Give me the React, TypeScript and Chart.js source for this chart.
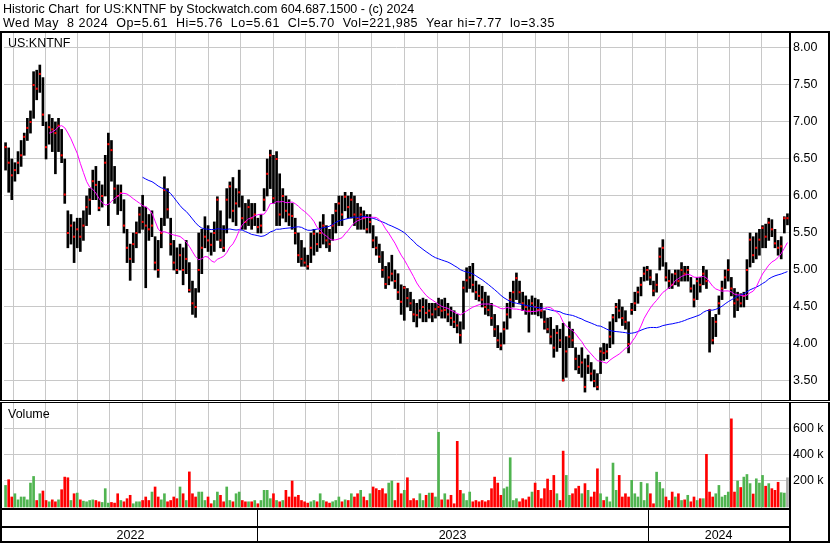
import React, { useEffect, useRef } from 'react';
import { Chart, registerables } from 'chart.js';

Chart.register(...registerables);

// ---- Text ----
const headerLine1 = 'Historic Chart  for US:KNTNF by Stockwatch.com 604.687.1500 - (c) 2024';
const headerLine2 = 'Wed May  8 2024  Op=5.61  Hi=5.76  Lo=5.61  Cl=5.70  Vol=221,985  Year hi=7.77  lo=3.35';
const symbolLabel = 'US:KNTNF';
const volumeLabel = 'Volume';

// ---- Price data (one bar = two trading days, May 2022 .. May 8 2024) ----
const closes = [
  6.66, 6.45, 6.28, 6.35, 6.45, 6.55, 6.8, 6.92, 7.0, 7.5,
  7.45, 7.65, 7.1, 6.66, 6.93, 6.9, 6.85, 6.95, 6.55, 6.02,
  5.5, 5.6, 5.45, 5.55, 5.45, 5.6, 5.85, 5.95, 6.2, 6.15,
  5.84, 6.0, 6.45, 6.7, 6.62, 6.1, 6.0, 6.04, 5.6, 5.3,
  5.15, 5.35, 5.5, 5.75, 5.65, 5.6, 5.55, 5.6, 5.1, 5.0,
  5.5, 6.08, 5.82, 5.35, 5.1, 5.0, 5.2, 5.0, 5.15, 4.73,
  4.55, 4.5, 5.0, 5.3, 5.45, 5.4, 5.34, 5.5, 5.95, 5.4,
  5.3, 5.95, 6.13, 5.8, 5.9, 6.05, 5.7, 5.65, 5.85, 5.7,
  5.75, 5.58, 5.6, 5.95, 6.3, 6.55, 5.97, 6.5, 5.75, 6.0,
  5.8, 5.75, 5.73, 5.5, 5.2, 5.15, 5.1, 5.05, 5.3, 5.49,
  5.35, 5.5, 5.6, 5.4, 5.35, 5.6, 5.8, 5.9, 5.75, 5.99,
  5.85, 5.95, 5.75, 5.7, 5.75, 5.7, 5.55, 5.65, 5.4, 5.3,
  5.18, 5.0, 4.81, 4.9, 4.95, 4.85, 4.7, 4.57, 4.76, 4.62,
  4.55, 4.4, 4.39, 4.45, 4.5, 4.42, 4.45, 4.4, 4.47, 4.5,
  4.45, 4.46, 4.4, 4.35, 4.3, 4.25, 4.12, 4.76, 4.86, 4.9,
  4.8, 4.7, 4.65, 4.6, 4.5, 4.46, 4.35, 4.2, 4.05, 3.98,
  4.2, 4.4, 4.6, 4.7, 4.89, 4.7, 4.55, 4.5, 4.45, 4.55,
  4.5, 4.46, 4.45, 4.3, 4.2, 4.1, 3.95, 4.15, 4.05, 3.51,
  3.9, 4.1, 4.05, 3.8, 3.69, 3.75, 3.42, 3.7, 3.6, 3.5,
  3.42, 3.9, 3.88, 3.9, 4.1, 4.36, 4.5, 4.45, 4.35, 4.3,
  4.0, 4.46, 4.55, 4.7, 4.8, 4.95, 5.0, 4.9, 4.72, 4.8,
  5.18, 5.3, 4.9, 4.85, 4.8, 4.95, 4.85, 5.0, 4.95, 5.0,
  4.75, 4.6, 4.85, 4.8, 4.95, 4.85, 4.46, 4.05, 4.3, 4.55,
  4.75, 4.9, 5.0, 4.75, 4.55, 4.6, 4.55, 4.65, 5.0, 5.41,
  5.2, 5.3, 5.41, 5.57, 5.45, 5.64, 5.55, 5.36, 5.3, 5.32,
  5.7, 5.7,
];

const highs = [
  6.72, 6.65, 6.5, 6.45, 6.6, 6.75, 6.85, 7.05, 7.15, 7.68,
  7.7, 7.77, 7.6, 7.0, 7.1, 7.05, 7.0, 7.05, 6.9, 6.5,
  5.8, 5.75, 5.65, 5.7, 5.7, 5.8, 6.0, 6.1, 6.35, 6.4,
  6.2, 6.15, 6.55, 6.85, 6.75, 6.4, 6.15, 6.15, 5.95, 5.55,
  5.35, 5.5, 5.65, 5.85, 6.01, 5.85, 5.75, 5.8, 5.45, 5.4,
  5.7, 6.26, 6.1, 5.7, 5.4, 5.3, 5.35, 5.3, 5.4, 5.1,
  4.85, 4.75, 5.5, 5.55, 5.72, 5.6, 5.5, 5.65, 5.99, 5.8,
  5.6, 6.1, 6.19, 6.25, 6.1, 6.35, 6.0, 5.9, 5.95, 5.9,
  5.9, 5.7, 5.75, 6.1, 6.5, 6.62, 6.55, 6.6, 6.3, 6.1,
  6.0, 5.95, 5.9, 5.7, 5.5, 5.4, 5.3, 5.2, 5.5, 5.55,
  5.5, 5.65, 5.75, 5.6, 5.55, 5.75, 5.9, 6.0, 6.0, 6.05,
  6.0, 6.05, 6.0, 5.9, 5.85, 5.8, 5.75, 5.75, 5.6, 5.45,
  5.35, 5.25, 5.05, 5.1, 5.2, 5.0, 4.95, 4.8, 4.78, 4.75,
  4.7, 4.6, 4.55, 4.6, 4.62, 4.6, 4.55, 4.55, 4.55, 4.62,
  4.6, 4.62, 4.55, 4.5, 4.45, 4.4, 4.3, 4.85, 5.03, 5.05,
  5.09, 4.85, 4.8, 4.78, 4.7, 4.65, 4.55, 4.4, 4.25, 4.15,
  4.3, 4.55, 4.7, 4.85, 4.96, 4.85, 4.7, 4.65, 4.6, 4.65,
  4.62, 4.6, 4.55, 4.45, 4.35, 4.36, 4.2, 4.25, 4.2, 4.28,
  4.1, 4.3, 4.2, 3.95, 3.85, 3.95, 3.8, 3.85, 3.75, 3.65,
  3.6, 3.95, 4.01, 4.0, 4.3, 4.4, 4.55, 4.6, 4.5, 4.45,
  4.3, 4.55, 4.7, 4.77, 4.9, 5.04, 5.05, 5.0, 4.85, 4.95,
  5.3, 5.41, 5.1, 5.0, 4.95, 5.0, 5.0, 5.1, 5.05, 5.05,
  4.9, 4.8, 4.9, 4.9, 5.05, 5.0, 4.46, 4.36, 4.4, 4.65,
  4.85, 5.0, 5.14, 4.9, 4.75, 4.7, 4.68, 4.7, 5.14, 5.5,
  5.45, 5.5, 5.55, 5.6, 5.62, 5.7, 5.68, 5.55, 5.4, 5.45,
  5.72, 5.76,
];

const lows = [
  6.35, 6.05, 5.95, 6.2, 6.3, 6.4, 6.55, 6.75, 6.85, 7.05,
  7.3, 7.4, 6.95, 6.5, 6.7, 6.6, 6.3, 6.6, 6.45, 5.9,
  5.3, 5.35, 5.1, 5.3, 5.25, 5.4, 5.6, 5.75, 5.95, 5.95,
  5.8, 5.85, 6.0, 5.6, 6.2, 5.9, 5.75, 5.8, 5.5, 5.1,
  4.86, 5.1, 5.3, 5.5, 5.55, 4.76, 5.4, 5.45, 5.0, 4.9,
  5.3, 5.6, 5.7, 5.2, 5.0, 4.95, 5.0, 4.8, 4.95, 4.7,
  4.4, 4.36, 4.7, 4.95, 5.3, 5.25, 5.2, 5.25, 5.4, 5.3,
  5.25, 5.5, 5.7, 5.65, 5.6, 5.85, 5.55, 5.55, 5.6, 5.55,
  5.6, 5.5, 5.5, 5.8, 6.0, 6.1, 5.9, 5.6, 5.6, 5.7,
  5.65, 5.6, 5.55, 5.35, 5.1, 5.05, 5.05, 5.01, 5.1, 5.2,
  5.25, 5.3, 5.35, 5.3, 5.25, 5.4, 5.5, 5.6, 5.6, 5.8,
  5.7, 5.7, 5.6, 5.55, 5.55, 5.55, 5.5, 5.5, 5.3, 5.2,
  5.1, 4.9, 4.75, 4.8, 4.85, 4.75, 4.6, 4.4, 4.32, 4.5,
  4.45, 4.3, 4.23, 4.35, 4.3, 4.3, 4.35, 4.3, 4.35, 4.38,
  4.35, 4.35, 4.3, 4.25, 4.22, 4.15, 4.01, 4.2, 4.7, 4.75,
  4.7, 4.6, 4.58, 4.5, 4.4, 4.38, 4.25, 4.1, 3.95, 3.92,
  4.0, 4.2, 4.35, 4.5, 4.6, 4.55, 4.45, 4.4, 4.16, 4.4,
  4.4, 4.38, 4.35, 4.2, 4.15, 4.0, 3.82, 3.9, 3.95, 3.5,
  3.55, 3.95, 3.95, 3.65, 3.6, 3.55, 3.35, 3.6, 3.5, 3.42,
  3.38, 3.6, 3.78, 3.8, 3.95, 4.0, 4.3, 4.35, 4.25, 4.2,
  3.88, 4.4, 4.45, 4.55, 4.65, 4.85, 4.86, 4.8, 4.65, 4.7,
  5.0, 5.05, 4.85, 4.75, 4.75, 4.8, 4.78, 4.85, 4.85, 4.85,
  4.7, 4.5, 4.6, 4.7, 4.8, 4.75, 3.89, 4.0, 4.1, 4.4,
  4.6, 4.75, 4.85, 4.65, 4.36, 4.45, 4.5, 4.5, 4.6, 5.04,
  5.1, 5.15, 5.2, 5.3, 5.3, 5.4, 5.45, 5.3, 5.2, 5.15,
  5.5, 5.61,
];

// Volume in thousands of shares
const volumesK = [
  166, 210, 77, 102, 55, 77, 77, 55, 184, 235,
  50, 102, 123, 50, 40, 55, 40, 55, 133, 230,
  225, 50, 102, 107, 55, 45, 40, 50, 55, 50,
  40, 35, 141, 30, 35, 30, 102, 50, 40, 64,
  90, 25, 40, 40, 50, 77, 50, 115, 154, 77,
  55, 102, 40, 50, 77, 64, 154, 102, 50, 270,
  102, 77, 115, 115, 50, 77, 25, 50, 115, 90,
  40, 154, 50, 40, 102, 115, 50, 40, 40, 40,
  50, 25, 50, 128, 128, 64, 102, 50, 40, 50,
  128, 77, 200, 77, 90, 50, 40, 30, 40, 50,
  40, 102, 50, 40, 30, 40, 50, 77, 40, 55,
  50, 102, 77, 102, 128, 77, 50, 102, 154, 141,
  128, 141, 102, 184, 200, 50, 184, 102, 128, 225,
  50, 64, 50, 102, 50, 90, 107, 107, 77, 575,
  55, 102, 55, 90, 25, 505, 128, 102, 50, 115,
  40, 50, 40, 50, 40, 50, 141, 230, 184, 90,
  141, 154, 379, 50, 64, 40, 64, 55, 77, 115,
  184, 128, 64, 141, 215, 128, 243, 102, 50, 430,
  243, 90, 102, 141, 160, 102, 180, 128, 77, 115,
  294, 102, 50, 77, 40, 338, 128, 243, 77, 102,
  77, 205, 102, 77, 190, 50, 180, 102, 25, 268,
  190, 141, 77, 50, 115, 77, 102, 50, 55, 90,
  40, 77, 50, 64, 64, 405, 115, 77, 102, 166,
  77, 90, 115, 678, 115, 200, 150, 230, 250, 180,
  100, 217, 184, 243, 160, 180, 141, 128, 190, 110,
  107, 225,
];

// ---- Axes ----
const monthLines = [
  7.7, 18.0, 28.2, 38.7, 49.2, 59.9, 70.2, 80.7, 91.2, 101.4, 112.1, 122.6,
  133.3, 143.8, 154.3, 165.0, 175.5, 185.9, 196.0, 206.3, 217.2, 227.2, 237.4, 248.0,
];
const yearLines = [80.7, 206.3];
const yearLabels = ['2022', '2023', '2024'];
const priceTicks = [
  3.5, 3.75, 4.0, 4.25, 4.5, 4.75, 5.0, 5.25, 5.5, 5.75,
  6.0, 6.25, 6.5, 6.75, 7.0, 7.25, 7.5, 7.75, 8.0,
];
const volumeTicksK = [200, 400, 600];
const shortMaLength = 15; // bars (about 30 trading days)
const longMaLength = 45; // bars (about 90 trading days)

const FONT = '"Liberation Sans", Arial, sans-serif';

function movingAverage(values: number[], n: number) {
  return values.map((_, i) => {
    if (i < n - 1) return null;
    let s = 0;
    for (let k = i - n + 1; k <= i; k++) s += values[k];
    return s / n;
  });
}

const framePlugin = {
  id: 'stockFrame',
  beforeDraw(chart: any) {
    const ctx = chart.ctx;
    ctx.save();
    ctx.fillStyle = '#ffffff';
    ctx.fillRect(0, 0, chart.width, chart.height);
    ctx.restore();
  },
  afterDraw(chart: any) {
    const ctx = chart.ctx;
    const W = chart.width;
    const area = chart.chartArea;
    const xs = chart.scales.x;
    const R = Math.round(area.right);
    ctx.save();
    ctx.fillStyle = '#000';
    ctx.font = `12.5px ${FONT}`;
    ctx.textBaseline = 'alphabetic';
    ctx.textAlign = 'left';
    ctx.fillText(headerLine1, 3, 13);
    ctx.save();
    try {
      (ctx as any).letterSpacing = '0.5px';
    } catch (e) {
      /* ignore */
    }
    ctx.fillText(headerLine2, 3, 27);
    ctx.restore();
    ctx.fillStyle = '#000';
    ctx.font = `12.5px ${FONT}`;
    ctx.fillText(symbolLabel, 8, 47);
    ctx.fillText(volumeLabel, 8, 418);

    // frame lines
    ctx.fillRect(0, 31, W, 2); // under header
    ctx.fillRect(0, 33, 2, 510); // left
    ctx.fillRect(R, 31, 2, 512); // axis divider
    ctx.fillRect(W - 2, 31, 2, 512); // right
    ctx.fillStyle = '#fff';
    ctx.fillRect(0, 401, W, 1);
    ctx.fillStyle = '#000';
    ctx.fillRect(0, 400, W, 1);
    ctx.fillRect(0, 402, W, 1);
    ctx.fillRect(0, 508, R, 2); // bottom of volume panel
    ctx.fillRect(0, 526, R, 2); // above year labels
    ctx.fillRect(0, 541, W, 2); // bottom

    // year dividers and labels
    const bounds = [area.left, ...yearLines.map((v) => xs.getPixelForValue(v)), area.right];
    yearLines.forEach((v) => {
      const px = Math.round(xs.getPixelForValue(v));
      ctx.fillRect(px, 510, 1, 31);
    });
    ctx.textAlign = 'center';
    yearLabels.forEach((lab, i) => {
      ctx.fillText(lab, (bounds[i] + bounds[i + 1]) / 2, 539);
    });
    ctx.restore();
  },
};

export default function App() {
  const ref = useRef<HTMLCanvasElement | null>(null);

  useEffect(() => {
    if (!ref.current) return;
    document.body.style.margin = '0';
    const idx = closes.map((_, i) => i);
    const maShort = movingAverage(closes, shortMaLength);
    const maLong = movingAverage(closes, longMaLength);
    const volColors = closes.map((c, i) => {
      if (i === 0) return '#50b450';
      if (c > closes[i - 1]) return '#50b450';
      if (c < closes[i - 1]) return '#ff0000';
      return '#aaaaaa';
    });

    const chart = new Chart(ref.current, {
      type: 'bar',
      data: {
        datasets: [
          {
            type: 'line',
            data: idx.map((i) => ({ x: i, y: maShort[i] })),
            borderColor: '#ff00ff',
            borderWidth: 1,
            pointRadius: 0,
            spanGaps: false,
            xAxisID: 'x',
            yAxisID: 'yPrice',
          } as any,
          {
            type: 'line',
            data: idx.map((i) => ({ x: i, y: maLong[i] })),
            borderColor: '#0000ff',
            borderWidth: 1,
            pointRadius: 0,
            spanGaps: false,
            xAxisID: 'x',
            yAxisID: 'yPrice',
          } as any,
          {
            type: 'scatter',
            data: idx.map((i) => ({ x: i, y: closes[i] })),
            pointStyle: 'rect',
            pointRadius: 1.45,
            pointBorderWidth: 0,
            pointBackgroundColor: '#ff0000',
            pointBorderColor: '#ff0000',
            showLine: false,
            xAxisID: 'x',
            yAxisID: 'yPrice',
          } as any,
          {
            type: 'bar',
            data: idx.map((i) => ({ x: i, y: [lows[i], highs[i]] })),
            backgroundColor: '#000000',
            borderWidth: 0,
            barThickness: 2,
            grouped: false,
            xAxisID: 'x',
            yAxisID: 'yPrice',
          } as any,
          {
            type: 'bar',
            data: idx.map((i) => ({ x: i, y: volumesK[i] })),
            backgroundColor: volColors,
            borderWidth: 0,
            barThickness: 2,
            grouped: false,
            xAxisID: 'x',
            yAxisID: 'yVol',
          } as any,
        ],
      },
      options: {
        responsive: false,
        animation: false,
        devicePixelRatio: 1,
        events: [],
        layout: { padding: { left: 2, right: 0, top: 33, bottom: 35 } },
        plugins: { legend: { display: false }, tooltip: { enabled: false } },
        scales: {
          x: {
            type: 'linear',
            min: -0.5,
            max: closes.length - 0.5,
            offset: false,
            grid: { color: '#c8c8c8', lineWidth: 1, drawTicks: false },
            border: { display: false },
            ticks: { display: false },
            afterBuildTicks: (s: any) => {
              s.ticks = monthLines.map((v) => ({ value: v }));
            },
            afterFit: (s: any) => {
              s.height = 0;
            },
          },
          yPrice: {
            type: 'linear',
            position: 'right',
            stack: 'panels',
            stackWeight: 368,
            min: 3.2297,
            max: 8.2027,
            grid: { color: '#c8c8c8', lineWidth: 1, drawTicks: false },
            border: { display: false },
            ticks: {
              padding: 4,
              color: '#000',
              font: { family: FONT, size: 12.5 },
              callback: (v: any) => Number(v).toFixed(2),
            },
            afterBuildTicks: (s: any) => {
              s.ticks = priceTicks.map((v) => ({ value: v }));
            },
            afterFit: (s: any) => {
              s.width = 41;
            },
          },
          yVol: {
            type: 'linear',
            position: 'right',
            stack: 'panels',
            stackWeight: 107,
            min: -7.7,
            max: 815.3,
            grid: { color: '#c8c8c8', lineWidth: 1, drawTicks: false },
            border: { display: false },
            ticks: {
              padding: 4,
              color: '#000',
              font: { family: FONT, size: 12.5 },
              callback: (v: any) => `${v} k`,
            },
            afterBuildTicks: (s: any) => {
              s.ticks = volumeTicksK.map((v) => ({ value: v }));
            },
            afterFit: (s: any) => {
              s.width = 41;
            },
          },
        },
      } as any,
      plugins: [framePlugin],
    });
    return () => chart.destroy();
  }, []);

  return (
    <div style={{ position: 'fixed', left: 0, top: 0, width: 830, height: 543, background: '#fff' }}>
      <canvas ref={ref} width={830} height={543} style={{ width: 830, height: 543, display: 'block' }} />
    </div>
  );
}
